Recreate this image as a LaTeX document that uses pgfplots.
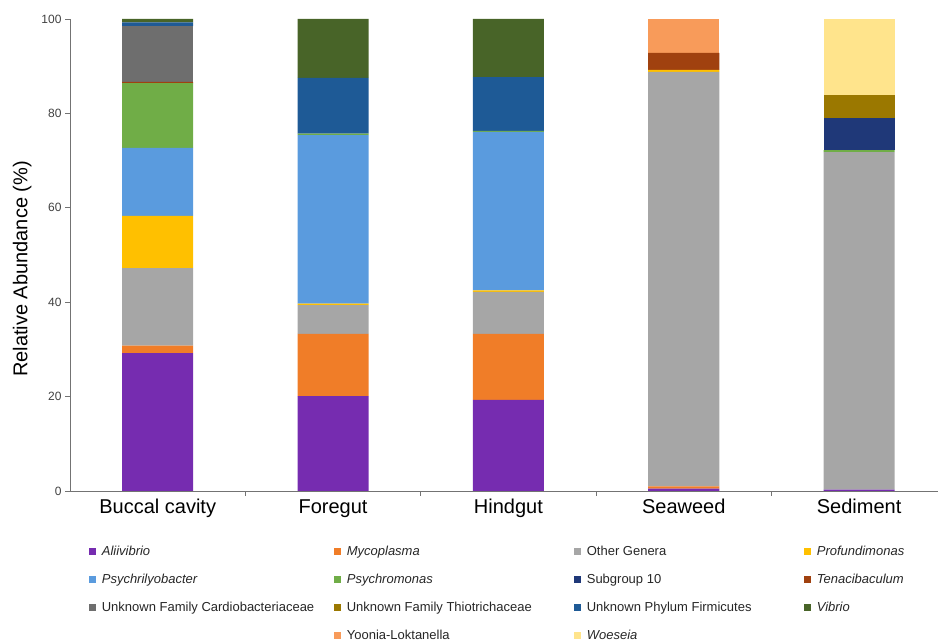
\documentclass[border=0pt]{standalone}
\usepackage{fontspec}
\setmainfont{Liberation Sans}
\usepackage{pgfplots}
\pgfplotsset{compat=1.18}
\definecolor{cAli}{RGB}{118,44,176}
\definecolor{cMyc}{RGB}{240,125,40}
\definecolor{cOth}{RGB}{166,166,166}
\definecolor{cPro}{RGB}{255,192,0}
\definecolor{cPsl}{RGB}{90,155,222}
\definecolor{cPsm}{RGB}{112,173,71}
\definecolor{cSub}{RGB}{31,56,120}
\definecolor{cTen}{RGB}{160,65,15}
\definecolor{cCar}{RGB}{110,110,110}
\definecolor{cThi}{RGB}{155,120,0}
\definecolor{cFir}{RGB}{30,90,150}
\definecolor{cVib}{RGB}{72,100,40}
\definecolor{cYoo}{RGB}{248,155,90}
\definecolor{cWoe}{RGB}{255,228,140}
\newcommand{\LE}[2]{\hspace{4pt}\makebox[#1][l]{#2}}
\begin{document}
\begin{tikzpicture}[x=1pt,y=1pt]
\path[use as bounding box] (0,0) rectangle (939,644);
\begin{axis}[
  at={(70pt,153pt)}, anchor=south west,
  scale only axis, width=868pt, height=472pt,
  ybar stacked, bar width=0.405,
  xmin=-0.5, xmax=4.45, ymin=0, ymax=100,
  axis lines*=left,
  axis line style={-, draw=black!55, line width=0.8pt},
  xtick={0,1,2,3,4},
  xticklabels={Buccal cavity,Foregut,Hindgut,Seaweed,Sediment},
  minor xtick={0.5,1.5,2.5,3.5},
  major x tick style={draw=none},
  minor x tick style={draw=black!55, line width=0.8pt},
  ytick={0,20,40,60,80,100},
  y tick style={draw=black!55, line width=0.8pt},
  tick align=outside,
  major tick length=5pt, minor tick length=5pt,
  /pgf/number format/assume math mode=true,
  y tick label style={font=\fontsize{12}{14}\selectfont, text=black!75},
  x tick label style={font=\fontsize{20}{22}\selectfont, text=black, text height=14pt, text depth=4pt},
  ylabel={Relative Abundance (\%)},
  ylabel style={font=\fontsize{20}{22}\selectfont, text=black, xshift=-14pt, yshift=3pt},
  legend columns=4,
  legend style={at={(axis description cs:0.018,-0.108)}, anchor=north west,
    draw=none, fill=none, font=\fontsize{13}{15}\selectfont, text=black!85,
    legend cell align=left, column sep=0pt, /tikz/row sep=13pt},
  legend image code/.code={\fill[#1] (0pt,-3.5pt) rectangle (7pt,3.5pt);},
]
\addplot[fill=cAli, draw=none] coordinates {(0,29.2) (1,20.1) (2,19.3) (3,0.5) (4,0.3)};
\addlegendentry{\LE{230pt}{\textit{Aliivibrio}}}
\addplot[fill=cMyc, draw=none] coordinates {(0,1.6) (1,13.2) (2,14.0) (3,0.5) (4,0)};
\addlegendentry{\LE{225pt}{\textit{Mycoplasma}}}
\addplot[fill=cOth, draw=none] coordinates {(0,16.4) (1,6.1) (2,8.9) (3,87.8) (4,71.5)};
\addlegendentry{\LE{215pt}{Other Genera}}
\addplot[fill=cPro, draw=none] coordinates {(0,11.1) (1,0.3) (2,0.3) (3,0.4) (4,0)};
\addlegendentry{\LE{110pt}{\textit{Profundimonas}}}
\addplot[fill=cPsl, draw=none] coordinates {(0,14.4) (1,35.7) (2,33.6) (3,0) (4,0)};
\addlegendentry{\LE{230pt}{\textit{Psychrilyobacter}}}
\addplot[fill=cPsm, draw=none] coordinates {(0,13.7) (1,0.3) (2,0.2) (3,0) (4,0.4)};
\addlegendentry{\LE{225pt}{\textit{Psychromonas}}}
\addplot[fill=cSub, draw=none] coordinates {(0,0) (1,0) (2,0) (3,0) (4,6.8)};
\addlegendentry{\LE{215pt}{Subgroup 10}}
\addplot[fill=cTen, draw=none] coordinates {(0,0.3) (1,0) (2,0) (3,3.6) (4,0)};
\addlegendentry{\LE{110pt}{\textit{Tenacibaculum}}}
\addplot[fill=cCar, draw=none] coordinates {(0,11.8) (1,0) (2,0) (3,0) (4,0)};
\addlegendentry{\LE{230pt}{Unknown Family Cardiobacteriaceae}}
\addplot[fill=cThi, draw=none] coordinates {(0,0) (1,0) (2,0) (3,0) (4,4.9)};
\addlegendentry{\LE{225pt}{Unknown Family Thiotrichaceae}}
\addplot[fill=cFir, draw=none] coordinates {(0,0.8) (1,11.8) (2,11.4) (3,0) (4,0)};
\addlegendentry{\LE{215pt}{Unknown Phylum Firmicutes}}
\addplot[fill=cVib, draw=none] coordinates {(0,0.7) (1,12.5) (2,12.3) (3,0) (4,0)};
\addlegendentry{\LE{110pt}{\textit{Vibrio}}}
\addlegendimage{empty legend}
\addlegendentry{}
\addplot[fill=cYoo, draw=none] coordinates {(0,0) (1,0) (2,0) (3,7.2) (4,0)};
\addlegendentry{\LE{225pt}{Yoonia-Loktanella}}
\addplot[fill=cWoe, draw=none] coordinates {(0,0) (1,0) (2,0) (3,0) (4,16.1)};
\addlegendentry{\LE{215pt}{\textit{Woeseia}}}
\end{axis}
\end{tikzpicture}
\end{document}
